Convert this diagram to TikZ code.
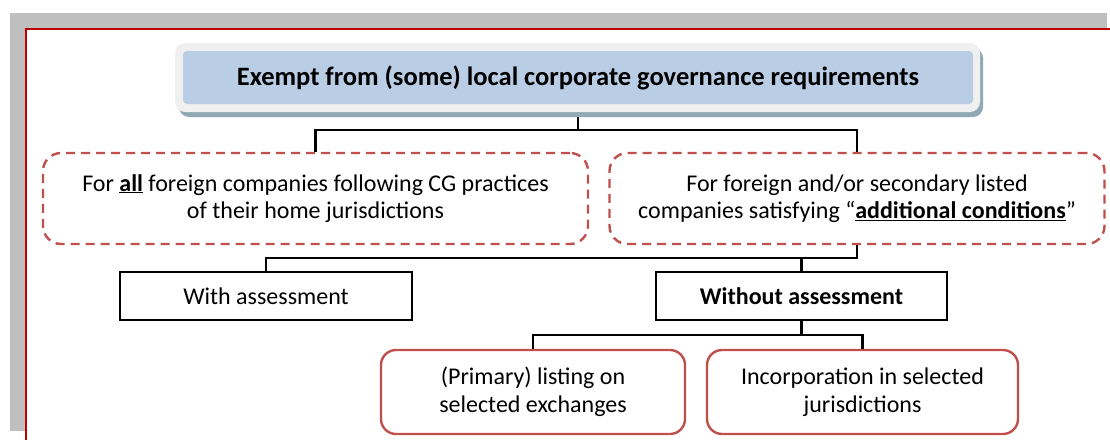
\documentclass[tikz,border=0pt]{standalone}
\usepackage{fontspec}
\setmainfont{Carlito}
\definecolor{bandgray}{HTML}{BFBFBF}
\definecolor{framered}{HTML}{C00000}
\definecolor{accred}{HTML}{C0504D}
\definecolor{titleblue}{HTML}{B9CDE5}
\definecolor{outergray}{HTML}{F0F0F0}
\definecolor{shadowblue}{HTML}{8FAAB4}
\tikzset{
  every node/.style={font=\fontsize{24}{27.5}\selectfont, align=center, inner sep=0pt},
  dashbox/.style={draw=accred, line width=2.4pt, dash pattern=on 9pt off 6pt, rounded corners=18pt},
  plainbox/.style={draw=black, line width=1.6pt},
  redbox/.style={draw=accred, line width=2.4pt, rounded corners=15pt},
  conn/.style={draw=black, line width=2.2pt},
}
\begin{document}
\begin{tikzpicture}[x=1pt, y=-1pt]
\useasboundingbox (0,0) rectangle (1110,439);
% page background with shadow band and red frame
\fill[bandgray] (10,13) rectangle (1107,431);
\filldraw[fill=white, draw=framered, line width=1.6pt] (26,29) rectangle (1125,455);

% junction coordinates
\coordinate (j1) at (578,130);
\coordinate (j2) at (857,258);
\coordinate (j3) at (801.5,335);

% nodes
\node[dashbox, minimum width=545, minimum height=91] (ldash) at (315.5,198.5)
  {For \textbf{\underline{all}} foreign companies following CG practices\\ of their home jurisdictions};
\node[dashbox, minimum width=495, minimum height=91] (rdash) at (857,198.5)
  {For foreign and/or secondary listed\\ companies satisfying ``\textbf{\underline{additional conditions}}''};
\node[plainbox, minimum width=292, minimum height=48] (with) at (266,296) {With assessment};
\node[plainbox, minimum width=291, minimum height=48] (without) at (801.5,296) {\textbf{Without assessment}};
\node[redbox, minimum width=304, minimum height=84] (rb1) at (533,392) {(Primary) listing on\\ selected exchanges};
\node[redbox, minimum width=311, minimum height=84] (rb2) at (862.5,392) {Incorporation in selected\\ jurisdictions};

% connectors (drawn before title decoration so the decoration hides the top stub)
\coordinate (tstub) at (578,104);
\draw[conn] (tstub) -- (j1) -| (ldash.north);
\draw[conn] (j1) -| (rdash.north);
\draw[conn] (rdash.south) -- (j2) -| (with.north);
\draw[conn] (without.north) -- (without.north |- j2);
\draw[conn] (without.south) -- (j3);
\draw[conn] (rb1.north) -- (rb1.north |- j3) -- (rb2.north |- j3) -- (rb2.north);

% title with its framed, shadowed look
\fill[shadowblue, rounded corners=10pt] (179,48) rectangle (983,117);
\fill[outergray, rounded corners=10pt] (175,43) rectangle (980,112);
\node[fill=titleblue, rounded corners=4pt, minimum width=790, minimum height=53,
      font=\fontsize{26.5}{30}\selectfont\bfseries] (title) at (578,77.5)
  {Exempt from (some) local corporate governance requirements};
\end{tikzpicture}
\end{document}
